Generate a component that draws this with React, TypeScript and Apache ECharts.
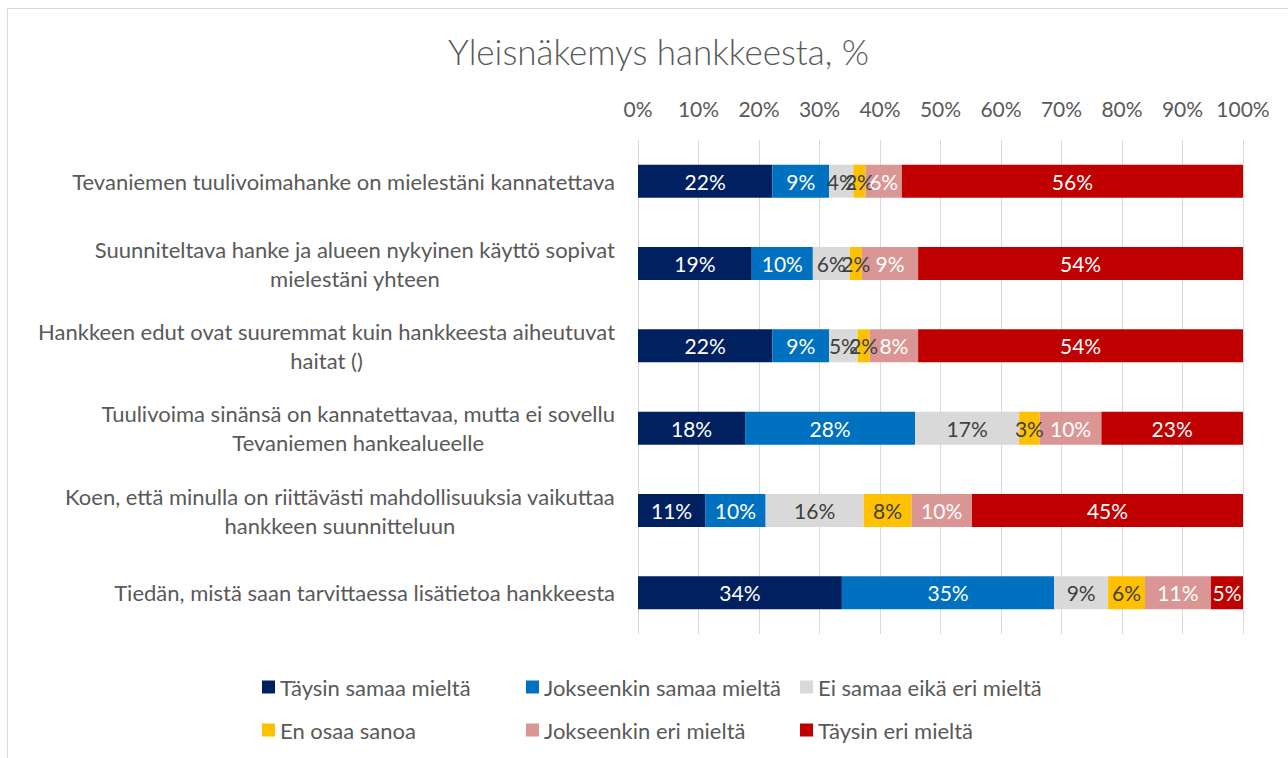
import React, { useEffect, useRef } from "react";
import * as echarts from "echarts";

const categories = [
  "Tevaniemen tuulivoimahanke on mielestäni kannatettava",
  "Suunniteltava hanke ja alueen nykyinen käyttö sopivat\nmielestäni yhteen",
  "Hankkeen edut ovat suuremmat kuin hankkeesta aiheutuvat\nhaitat ()",
  "Tuulivoima sinänsä on kannatettavaa, mutta ei sovellu\nTevaniemen hankealueelle",
  "Koen, että minulla on riittävästi mahdollisuuksia vaikuttaa\nhankkeen suunnitteluun",
  "Tiedän, mistä saan tarvittaessa lisätietoa hankkeesta",
];

const seriesNames = [
  "Täysin samaa mieltä",
  "Jokseenkin samaa mieltä",
  "Ei samaa eikä eri mieltä",
  "En osaa sanoa",
  "Jokseenkin eri mieltä",
  "Täysin eri mieltä",
];

const taysinSamaa = [22.2, 18.8, 22.2, 17.7, 11.1, 33.7];
const jokseenkinSamaa = [9.4, 10.1, 9.4, 28.1, 10.0, 35.1];
const eiSamaaEikaEri = [4.0, 6.1, 4.7, 17.2, 16.2, 8.9];
const enOsaaSanoa = [2.0, 2.0, 2.0, 3.4, 7.9, 6.1];
const jokseenkinEri = [6.0, 9.3, 8.0, 10.2, 10.0, 10.9];
const taysinEri = [56.4, 53.7, 53.7, 23.4, 44.8, 5.4];

const seriesValues = [
  taysinSamaa,
  jokseenkinSamaa,
  eiSamaaEikaEri,
  enOsaaSanoa,
  jokseenkinEri,
  taysinEri,
];

const xTicks = [0, 10, 20, 30, 40, 50, 60, 70, 80, 90, 100];

const colors = ["#002060", "#0070C0", "#D9D9D9", "#FFC000", "#DA9694", "#C00000"];
const labelColors = ["#ffffff", "#ffffff", "#404040", "#404040", "#ffffff", "#ffffff"];

const FONT = "Lato";

const legendPos = [
  { left: 262, top: 676 },
  { left: 526, top: 676 },
  { left: 800, top: 676 },
  { left: 262, top: 719 },
  { left: 526, top: 719 },
  { left: 800, top: 719 },
];

export default function App() {
  const ref = useRef<HTMLDivElement>(null);

  useEffect(() => {
    if (!ref.current) return;
    const chart = echarts.init(ref.current, null, { renderer: "svg" });
    const option: any = {
      animation: false,
      backgroundColor: "#ffffff",
      textStyle: { fontFamily: FONT },
      title: {
        text: "Yleisnäkemys hankkeesta, %",
        left: 443,
        top: 28,
        textStyle: {
          fontFamily: FONT,
          fontSize: 35,
          fontWeight: 300,
          color: "#595959",
        },
      },
      graphic: [
        {
          type: "rect",
          shape: { x: 7.5, y: 8.5, width: 1400, height: 900 },
          style: { fill: "none", stroke: "#d9d9d9", lineWidth: 1 },
          silent: true,
          z: -1,
        },
      ],
      legend: seriesNames.map((n, i) => ({
        data: [n],
        left: legendPos[i].left,
        top: legendPos[i].top,
        padding: 0,
        icon: "rect",
        itemWidth: 13,
        itemHeight: 13,
        selectedMode: false,
        textStyle: { fontFamily: FONT, fontSize: 22, color: "#595959" },
      })),
      grid: { left: 638, right: 45, top: 140, bottom: 124 },
      xAxis: {
        type: "value",
        position: "top",
        min: xTicks[0],
        max: xTicks[xTicks.length - 1],
        interval: 10,
        axisLine: { show: false },
        axisTick: { show: false },
        splitLine: { lineStyle: { color: "#d9d9d9", width: 1 } },
        axisLabel: {
          formatter: "{value}%",
          fontFamily: FONT,
          fontSize: 21,
          color: "#595959",
          margin: 21,
        },
      },
      yAxis: {
        type: "category",
        inverse: true,
        data: categories,
        axisLine: { show: false },
        axisTick: { show: false },
        axisLabel: {
          margin: 23,
          fontFamily: FONT,
          fontSize: 22,
          color: "#595959",
          lineHeight: 29,
          formatter: (v: string) =>
            v
              .split("\n")
              .map((l) => `{c|${l}}`)
              .join("\n"),
          rich: {
            c: {
              align: "center",
              fontFamily: FONT,
              fontSize: 22,
              color: "#595959",
              lineHeight: 29,
            },
          },
        },
      },
      series: seriesNames.map((n, i) => ({
        name: n,
        type: "bar",
        stack: "total",
        barWidth: 33,
        data: seriesValues[i],
        itemStyle: { color: colors[i] },
        label: {
          show: true,
          position: "inside",
          formatter: (p: any) => `${Math.round(p.value)}%`,
          fontFamily: FONT,
          fontSize: 21,
          color: labelColors[i],
        },
      })),
    };
    chart.setOption(option);
    return () => chart.dispose();
  }, []);

  return (
    <div
      ref={ref}
      style={{ position: "fixed", left: 0, top: 0, width: 1288, height: 758 }}
    />
  );
}
